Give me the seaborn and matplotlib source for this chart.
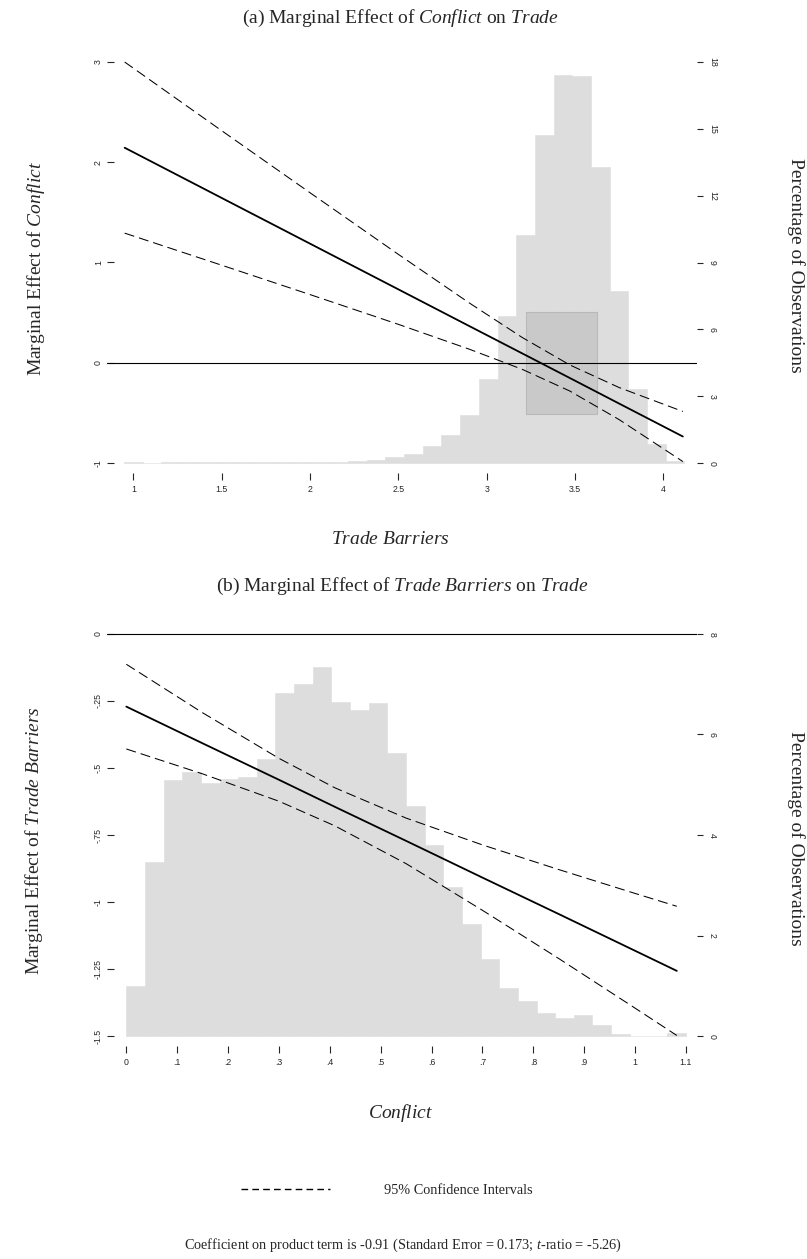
import numpy as np
import pandas as pd
import matplotlib
matplotlib.use('Agg')
import matplotlib.pyplot as plt
from matplotlib.lines import Line2D
import seaborn as sns

# ---- panel (a): marginal effect of Conflict across Trade Barriers ----
a_hist_start = 0.947
a_hist_width = 0.1057
a_hist_pct = [0.03, 0.0, 0.03, 0.03, 0.03, 0.03, 0.03, 0.03, 0.04, 0.04,
              0.05, 0.06, 0.10, 0.15, 0.27, 0.42, 0.75, 1.27, 2.14, 3.78,
              6.61, 10.25, 14.73, 17.41, 17.37, 13.28, 7.73, 3.33, 0.85, 0.07]
a_x = [0.951, 1.5, 2.0, 2.5, 2.9, 3.2, 3.47, 3.75, 4.11]
a_me = [2.145, 1.644, 1.188, 0.732, 0.367, 0.094, -0.152, -0.408, -0.736]
a_hi = [3.0, 2.315, 1.696, 1.081, 0.598, 0.253, -0.022, -0.248, -0.486]
a_lo = [1.293, 0.973, 0.680, 0.383, 0.136, -0.065, -0.282, -0.568, -0.986]
a_box_x = [3.222, 3.622]
a_box_y = [-0.51, 0.51]
a_xticks = [1, 1.5, 2, 2.5, 3, 3.5, 4]
a_xticklabels = ['1', '1.5', '2', '2.5', '3', '3.5', '4']
a_yticks = [-1, 0, 1, 2, 3]
a_yticklabels = ['-1', '0', '1', '2', '3']
a_pct_ticks = [0, 3, 6, 9, 12, 15, 18]

# ---- panel (b): marginal effect of Trade Barriers across Conflict ----
b_hist_start = 0.0
b_hist_width = 0.03665
b_hist_pct = [0.99, 3.47, 5.09, 5.25, 5.03, 5.11, 5.16, 5.51, 6.82, 7.00,
              7.35, 6.65, 6.49, 6.62, 5.63, 4.58, 3.80, 2.96, 2.23, 1.53,
              0.96, 0.70, 0.46, 0.36, 0.42, 0.22, 0.03, 0.0, 0.0, 0.05]
b_x = [0.0, 0.15, 0.3, 0.41, 0.55, 0.7, 0.85, 1.0, 1.082]
b_me = [-0.271, -0.408, -0.544, -0.645, -0.772, -0.909, -1.045, -1.182, -1.257]
b_hi = [-0.113, -0.294, -0.464, -0.574, -0.687, -0.787, -0.879, -0.968, -1.016]
b_lo = [-0.429, -0.522, -0.624, -0.716, -0.857, -1.031, -1.211, -1.396, -1.498]
b_xticks = [0, .1, .2, .3, .4, .5, .6, .7, .8, .9, 1, 1.1]
b_xticklabels = ['0', '.1', '.2', '.3', '.4', '.5', '.6', '.7', '.8', '.9', '1', '1.1']
b_yticks = [0, -.25, -.5, -.75, -1, -1.25, -1.5]
b_yticklabels = ['0', '-.25', '-.5', '-.75', '-1', '-1.25', '-1.5']
b_pct_ticks = [0, 2, 4, 6, 8]

sns.set_style('ticks')
plt.rcParams['font.family'] = ['Liberation Serif', 'DejaVu Serif']
plt.rcParams['mathtext.fontset'] = 'custom'
plt.rcParams['mathtext.rm'] = 'Liberation Serif'
plt.rcParams['mathtext.it'] = 'Liberation Serif:italic'

W, H = 807, 1259
fig = plt.figure(figsize=(W / 100, H / 100), dpi=100)

hist_color = '#dddddd'
ci_dash = (0, (9.6, 4.8))
tick_font = 'Liberation Sans'


def draw_panel(top_px, bottom_px, xlim, ylim, pctlim, hist_start, hist_width, hist_pct,
               xs, me, hi, lo, xticks, xticklabels, yticks, yticklabels, pct_ticks):
    rect = [107 / W, 1 - bottom_px / H, 590 / W, (bottom_px - top_px) / H]
    axh = fig.add_axes(rect)
    n = len(hist_pct)
    mids = hist_start + hist_width * (np.arange(n) + 0.5)
    df = pd.DataFrame({'mid': mids, 'pct': hist_pct})
    sns.histplot(data=df, x='mid', weights='pct', bins=n,
                 binrange=(hist_start, hist_start + n * hist_width),
                 color=hist_color, alpha=1, edgecolor=hist_color, linewidth=0.4, ax=axh)
    axh.set_xlim(xlim)
    axh.set_ylim(pctlim)
    axh.set_ylabel('')
    axh.set_xlabel('')

    axl = axh.twinx()
    axl.set_ylim(ylim)
    axl.axhline(0, color='black', lw=0.8, zorder=3)
    sns.lineplot(x=xs, y=me, color='black', linewidth=1.3, ax=axl, zorder=4)
    sns.lineplot(x=xs, y=hi, color='black', linewidth=0.75, linestyle=ci_dash, ax=axl, zorder=4)
    sns.lineplot(x=xs, y=lo, color='black', linewidth=0.75, linestyle=ci_dash, ax=axl, zorder=4)

    # y ticks: left for marginal effect, right for percentages
    axl.yaxis.tick_left()
    axh.yaxis.tick_right()
    axl.set_yticks(yticks)
    axl.set_yticklabels(yticklabels)
    axh.set_yticks(pct_ticks)
    axh.set_yticklabels([str(t) for t in pct_ticks])
    axh.set_xticks(xticks)
    axh.set_xticklabels(xticklabels)

    axl.tick_params(axis='y', direction='in', length=5, width=0.8, labelsize=6.3,
                    pad=3, labelrotation=90, labelfontfamily=tick_font)
    axh.tick_params(axis='y', direction='out', length=4.3, width=0.8, labelsize=6.3,
                    pad=3.5, labelrotation=-90, labelfontfamily=tick_font)
    axh.tick_params(axis='x', direction='out', length=5.2, width=0.8, labelsize=6.3,
                    pad=3.5, labelfontfamily=tick_font)
    for t in axl.get_yticklabels() + axh.get_yticklabels():
        t.set_va('center')
    for ax in (axh, axl):
        for s in ax.spines.values():
            s.set_visible(False)
        ax.set_ylabel('')
    return axh, axl


axh_a, axl_a = draw_panel(52, 473, (0.851, 4.190), (-1.1, 3.1), (-0.449, 18.449),
                          a_hist_start, a_hist_width, a_hist_pct, a_x, a_me, a_hi, a_lo,
                          a_xticks, a_xticklabels, a_yticks, a_yticklabels, a_pct_ticks)
# interquartile box on panel (a)
axl_a.fill_between(a_box_x, a_box_y[0], a_box_y[1], facecolor='#c9c9c9',
                   edgecolor='#b9b9b9', linewidth=0.8, zorder=2)

axh_b, axl_b = draw_panel(624, 1046, (-0.038, 1.1217), (-1.5373, 0.0373), (-0.199, 8.199),
                          b_hist_start, b_hist_width, b_hist_pct, b_x, b_me, b_hi, b_lo,
                          b_xticks, b_xticklabels, b_yticks, b_yticklabels, b_pct_ticks)


def ftext(x, y, s, **kw):
    fig.text(x / W, 1 - y / H, s, ha='center', va='center', **kw)


ftext(400, 18, r'(a) Marginal Effect of $\mathit{Conflict}$ on $\mathit{Trade}$', fontsize=14)
ftext(36, 268, r'Marginal Effect of $\mathit{Conflict}$', fontsize=14, rotation=90)
ftext(796, 265, 'Percentage of Observations', fontsize=14, rotation=-90)
ftext(390, 539, r'$\mathit{Trade\ Barriers}$', fontsize=14)

ftext(402, 586, r'(b) Marginal Effect of $\mathit{Trade\ Barriers}$ on $\mathit{Trade}$', fontsize=14)
ftext(34, 841, r'Marginal Effect of $\mathit{Trade\ Barriers}$', fontsize=14, rotation=90)
ftext(796, 838, 'Percentage of Observations', fontsize=14, rotation=-90)
ftext(401, 1113, r'$\mathit{Conflict}$', fontsize=14)

handle = Line2D([], [], color='black', linewidth=1.0, linestyle=(0, (4.8, 3.0)))
fig.legend(handles=[handle], labels=['95% Confidence Intervals'], loc='center left',
           bbox_to_anchor=(241 / W, 1 - 1190 / H), frameon=False, fontsize=10.3,
           handlelength=6.2, handletextpad=3.8, borderpad=0, borderaxespad=0)

ftext(403, 1245, r'Coefficient on product term is -0.91 (Standard Error = 0.173; $\mathit{t}$-ratio = -5.26)',
      fontsize=10.3)

fig.savefig('out.png', dpi=100)
